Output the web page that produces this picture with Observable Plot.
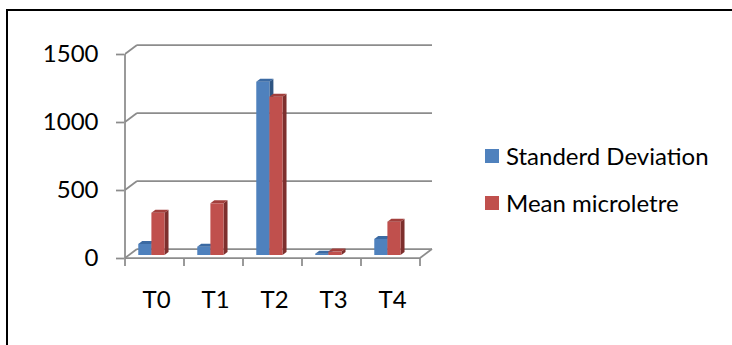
<!DOCTYPE html>
<html>
<head>
<meta charset="utf-8">
<script src="https://cdn.jsdelivr.net/npm/d3@7"></script>
<script src="https://cdn.jsdelivr.net/npm/@observablehq/plot@0.6"></script>
<style>
  html, body { margin: 0; padding: 0; background: #fff; }
  #wrap { position: relative; width: 732px; height: 345px; overflow: hidden; font-family: Lato, "Open Sans", sans-serif; }
  #border { position: absolute; left: 6px; top: 9px; width: 800px; height: 400px; border-left: 2px solid #000; border-top: 2px solid #000; pointer-events: none; }
  #legend { position: absolute; left: 485px; top: 140px; font-size: 24px; color: #000; }
  .item { display: flex; align-items: center; height: 31px; margin-bottom: 16px; }
  .sw { width: 14px; height: 14px; margin-right: 7px; flex: none; }
</style>
</head>
<body>
<div id="wrap">
  <div id="chart"></div>
  <div id="legend"></div>
  <div id="border"></div>
</div>
<script>
// ---- data ----
const categories = ["T0", "T1", "T2", "T3", "T4"];
const seriesNames = ["Standerd Deviation", "Mean microletre"];
const standardDeviation = [81, 61, 1274, 10, 118];
const meanMicrolitre = [311, 380, 1164, 25, 245];
const yTicks = [0, 500, 1000, 1500];

// ---- styling ----
const colors = {
  "Standerd Deviation": {front: "#4f81bd", top: "#3b6aa3", side: "#2f5582"},
  "Mean microletre": {front: "#c0504d", top: "#a23f3c", side: "#7d2f2d"}
};
const gridColor = "#8c8c8c";
const DX = 12, DY = 9;            // floor depth offset
const barSlots = [[0.225, 0.4475], [0.4475, 0.67]]; // front-face extents within a band

const rows = [];
categories.forEach((c, i) => {
  rows.push({cat: c, series: seriesNames[0], value: standardDeviation[i], slot: 0});
  rows.push({cat: c, series: seriesNames[1], value: meanMicrolitre[i], slot: 1});
});

const NS = "http://www.w3.org/2000/svg";
function el(tag, attrs) {
  const e = document.createElementNS(NS, tag);
  for (const k in attrs) e.setAttribute(k, attrs[k]);
  return e;
}
function poly(pts, fill) {
  return el("polygon", {points: pts.map(p => p.join(",")).join(" "), fill});
}
function bandInfo(x) {
  const bw = x.bandwidth ? x.bandwidth() : (x(categories[1]) - x(categories[0]));
  const x0 = x(categories[0]);
  const x1 = x(categories[categories.length - 1]) + bw;
  return {bw, x0, x1};
}

// walls, gridlines, floor
function frame3d(index, scales) {
  const {x, y} = scales;
  const {x0, x1} = bandInfo(x);
  const g = el("g", {stroke: gridColor, "stroke-width": 1.75, fill: "none"});
  for (const t of yTicks) {
    g.appendChild(el("line", {x1: x0 + DX, x2: x1 + DX, y1: y(t) - DY, y2: y(t) - DY}));
    g.appendChild(el("line", {x1: x0, x2: x0 + DX, y1: y(t), y2: y(t) - DY}));
  }
  g.appendChild(el("line", {x1: x0, x2: x0, y1: y(yTicks[yTicks.length - 1]), y2: y(0)}));
  g.appendChild(el("line", {x1: x0, x2: x1, y1: y(0), y2: y(0)}));
  g.appendChild(el("line", {x1: x1, x2: x1 + DX, y1: y(0), y2: y(0) - DY}));
  const bounds = categories.map(c => x(c)).concat([x1]);
  for (const b of bounds) g.appendChild(el("line", {x1: b, x2: b, y1: y(0), y2: y(0) + 8}));
  return g;
}

// 3D columns
function bars3d(index, scales) {
  const {x, y} = scales;
  const {bw} = bandInfo(x);
  const fx = DX / 3, fy = DY / 3;   // columns occupy the middle third of the depth
  const g = el("g", {});
  for (const r of rows) {
    const c = colors[r.series];
    const [a, b] = barSlots[r.slot];
    const xl = x(r.cat) + a * bw, xr = x(r.cat) + b * bw;
    const yb = y(0) - fy, yt = y(r.value) - fy;
    g.appendChild(poly([[xr, yt], [xr + fx, yt - fy], [xr + fx, yb - fy], [xr, yb]], c.side));
    g.appendChild(el("rect", {x: xl, y: yt, width: xr - xl, height: Math.max(0, yb - yt), fill: c.front}));
    g.appendChild(poly([[xl, yt], [xr, yt], [xr + fx, yt - fy], [xl + fx, yt - fy]], c.top));
  }
  return g;
}

const chart = Plot.plot({
  width: 732,
  height: 345,
  marginLeft: 124,
  marginRight: 312,
  marginTop: 54,
  marginBottom: 87,
  x: {type: "band", domain: categories, padding: 0},
  y: {domain: [0, 1500]},
  style: {background: "transparent", fontFamily: "Lato, 'Open Sans', sans-serif", color: "#000", overflow: "visible"},
  marks: [
    frame3d,
    Plot.axisY(yTicks, {tickSize: 8, tickPadding: 18, stroke: gridColor, strokeWidth: 1.75, fontSize: 24, label: null, tickFormat: d => String(d)}),
    Plot.axisX({tickSize: 0, tickPadding: 32, fontSize: 24, label: null, dx: 1.5}),
    bars3d
  ]
});
document.getElementById("chart").appendChild(chart);

const legend = document.getElementById("legend");
seriesNames.forEach(name => {
  const item = document.createElement("div");
  item.className = "item";
  const sw = document.createElement("span");
  sw.className = "sw";
  sw.style.background = colors[name].front;
  const label = document.createElement("span");
  label.textContent = name;
  item.appendChild(sw);
  item.appendChild(label);
  legend.appendChild(item);
});
</script>
</body>
</html>
